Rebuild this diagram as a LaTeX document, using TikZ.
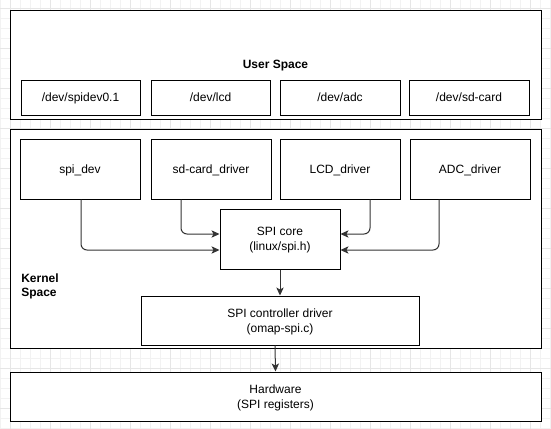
\documentclass[tikz,border=0pt]{standalone}
\usepackage{fontspec}
\setmainfont{Liberation Sans}
\usetikzlibrary{arrows.meta}
\definecolor{gridminor}{HTML}{F2F2F2}
\definecolor{gridmajor}{HTML}{E6E6E6}
\definecolor{wire}{HTML}{333333}
\begin{document}
\begin{tikzpicture}[x=0.75pt,y=-0.75pt,
  font=\fontsize{9}{11}\selectfont,
  box/.style={draw=black,line width=0.75pt,fill=white,rectangle,inner sep=0pt,
    align=center,text depth=0pt},
  arr/.style={draw=wire,line width=0.75pt,rounded corners=4.5pt,
    -{Stealth[length=6pt,width=5.5pt,inset=1.5pt]}}]
  % page and background grid
  \useasboundingbox (0,0) rectangle (551,429);
  \fill[white] (0,0) rectangle (551,429);
  \foreach \gx in {0,10,...,550} \draw[gridminor,line width=0.75pt] (\gx,0) -- (\gx,429);
  \foreach \gy in {8,18,...,428} \draw[gridminor,line width=0.75pt] (0,\gy) -- (551,\gy);
  \foreach \gx in {10,50,...,550} \draw[gridmajor,line width=0.75pt] (\gx,0) -- (\gx,429);
  \foreach \gy in {8,48,...,428} \draw[gridmajor,line width=0.75pt] (0,\gy) -- (551,\gy);

  % user space
  \node[box,minimum width=398.25pt,minimum height=81.75pt,font=\fontsize{9}{11}\selectfont\bfseries]
    (user) at (275.5,64.5) {User Space};
  \node[box,minimum width=89.25pt,minimum height=26.25pt] (spidev) at (80.5,97.5) {/dev/spidev0.1};
  \node[box,minimum width=89.25pt,minimum height=26.25pt] (devlcd) at (210.5,97.5) {/dev/lcd};
  \node[box,minimum width=90pt,minimum height=26.25pt] (devadc) at (340,97.5) {/dev/adc};
  \node[box,minimum width=90pt,minimum height=26.25pt] (devsd) at (469,97.5) {/dev/sd-card};

  % kernel space
  \node[box,minimum width=398.25pt,minimum height=164.25pt] (kernel) at (275.5,238.5) {};
  \node[anchor=west,align=left,inner sep=0pt,font=\fontsize{9}{10}\selectfont\bfseries]
    (klabel) at (21,286.5) {Kernel\\Space};
  \node[box,minimum width=90pt,minimum height=45pt] (spidrv) at (80,169) {spi\_dev};
  \node[box,minimum width=90pt,minimum height=45pt] (sddrv) at (211,169) {sd-card\_driver};
  \node[box,minimum width=90pt,minimum height=45pt] (lcddrv) at (340,169) {LCD\_driver};
  \node[box,minimum width=90pt,minimum height=45pt] (adcdrv) at (470,169) {ADC\_driver};
  \node[box,minimum width=90pt,minimum height=45pt] (core) at (280,239) {SPI core\\(linux/spi.h)};
  \node[box,minimum width=208.5pt,minimum height=36.75pt] (ctrl) at (280,320.5)
    {SPI controller driver\\(omap-spi.c)};

  % hardware
  \node[box,minimum width=398.25pt,minimum height=36.75pt] (hw) at (275.5,396.5)
    {Hardware\\(SPI registers)};

  % connectors
  \draw[arr] (81,0 |- spidrv.south) |- (core.west |- 0,250);
  \draw[arr] (181,0 |- sddrv.south) |- (core.west |- 0,234);
  \draw[arr] (370,0 |- lcddrv.south) |- (core.east |- 0,234);
  \draw[arr] (439,0 |- adcdrv.south) |- (core.east |- 0,250);
  \draw[arr] (core.south) -- (ctrl.north);
  \draw[arr] (275,0 |- ctrl.south) -- (hw.north);
\end{tikzpicture}
\end{document}
